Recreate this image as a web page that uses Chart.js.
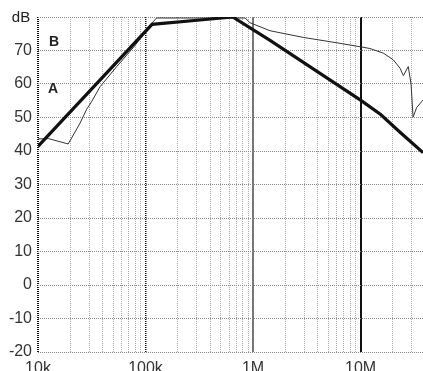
<!DOCTYPE html>
<html>
<head>
<meta charset="utf-8">
<script src="https://cdn.jsdelivr.net/npm/chart.js@4.4.1/dist/chart.umd.min.js"></script>
<style>
  body { margin: 0; background: #fff; }
  #wrap { width: 423px; height: 371px; }
</style>
</head>
<body>
<div id="wrap"><canvas id="myChart" width="423" height="371"></canvas></div>
<script>
// curve A (thick)
const freqA = [10000, 115000, 321000, 647000, 1440000, 10000000, 15400000, 23300000, 38100000]
const dbA = [41.4, 77.8, 79.1, 80, 73.0, 55.2, 50.9, 45.6, 39.5]

// curve B (thin)
const freqB = [10000, 12500, 19100, 24600, 28400, 31500, 37800, 54000, 80000, 110000, 127000, 843000, 937000,
    1440000, 2940000, 6010000, 10000000, 12200000, 16300000, 20200000, 23300000, 25000000, 27800000, 29500000,
    30800000, 33300000, 38100000]
const dbB = [43.6, 43.7, 42.1, 48.3, 52.5, 54.7, 59.2, 65.2, 71.5, 77.6, 79.7, 79.7, 78.3,
    75.9, 73.9, 72.3, 71.1, 70.6, 69.2, 67.2, 64.7, 62.5, 65.2, 60,
    50.1, 53, 55.2]

const xLabels = { 10000: '10k', 100000: '100k', 1000000: '1M', 10000000: '10M' }
const yMin = -20
const yMax = 80

// grid frequencies 1..9 x 10^n, up to 30M
const gridFreqs = []
for (let d = 4; d <= 7; d++) {
    for (let m = 1; m <= 9; m++) {
        const v = m * Math.pow(10, d)
        if (v <= 30000000) gridFreqs.push(v)
    }
}

const labelPlugin = {
    id: 'labels',
    afterDraw(chart) {
        const c = chart.ctx
        c.save()
        c.fillStyle = '#222'
        c.textAlign = 'center'
        c.textBaseline = 'middle'
        c.font = '15px "Liberation Sans", Arial, sans-serif'
        c.fillText('dB', 21, 18)
        c.font = 'bold 14px "Liberation Sans", Arial, sans-serif'
        c.fillText('B', 54, 42)
        c.fillText('A', 53, 89)
        c.restore()
    }
}

const toPts = (xs, ys) => xs.map((x, i) => ({ x: x, y: ys[i] }))

const ctx = document.getElementById('myChart').getContext('2d')
const myChart = new Chart(ctx, {
    type: 'line',
    data: {
        datasets: [{
            label: 'A',
            data: toPts(freqA, dbA),
            borderColor: '#111',
            borderWidth: 3.2,
            pointRadius: 0,
            tension: 0
        }, {
            label: 'B',
            data: toPts(freqB, dbB),
            borderColor: '#333',
            borderWidth: 1,
            pointRadius: 0,
            tension: 0
        }]
    },
    options: {
        responsive: false,
        animation: false,
        devicePixelRatio: 1,
        layout: { padding: { top: 17, right: 0, left: 0, bottom: 0 } },
        plugins: {
            legend: { display: false },
            tooltip: { enabled: false }
        },
        scales: {
            x: {
                type: 'logarithmic',
                min: 10000,
                max: 38100000,
                afterBuildTicks: (scale) => {
                    scale.ticks = gridFreqs.map(v => ({ value: v }))
                },
                afterFit: (scale) => { scale.height = 19 },
                border: {
                    display: false,
                    dash: (c) => {
                        const v = c.tick ? c.tick.value : 0
                        if (v === 1000000 || v === 10000000) return []
                        return [1, 1]
                    }
                },
                grid: {
                    drawTicks: false,
                    color: (c) => {
                        const v = c.tick ? c.tick.value : 0
                        if (v === 10000 || v === 100000 || v === 10000000) return '#111'
                        if (v === 1000000) return '#777'
                        return '#aaa'
                    },
                    lineWidth: (c) => {
                        const v = c.tick ? c.tick.value : 0
                        if (v === 10000 || v === 10000000 || v === 1000000) return 2
                        if (v === 100000) return 1.5
                        return 1
                    }
                },
                ticks: {
                    autoSkip: false,
                    maxRotation: 0,
                    padding: 7,
                    color: '#333',
                    font: { family: '"Liberation Sans", Arial, sans-serif', size: 16 },
                    callback: (value) => xLabels[value] || ''
                }
            },
            y: {
                min: yMin,
                max: yMax,
                afterFit: (scale) => { scale.width = 38 },
                border: { display: false, dash: [1, 1] },
                grid: {
                    drawTicks: false,
                    color: '#888',
                    lineWidth: 1
                },
                ticks: {
                    stepSize: 10,
                    padding: 6,
                    color: '#333',
                    font: { family: '"Liberation Sans", Arial, sans-serif', size: 16 },
                    callback: (value) => value === 80 ? '' : value
                }
            }
        }
    },
    plugins: [labelPlugin]
})
</script>
</body>
</html>
